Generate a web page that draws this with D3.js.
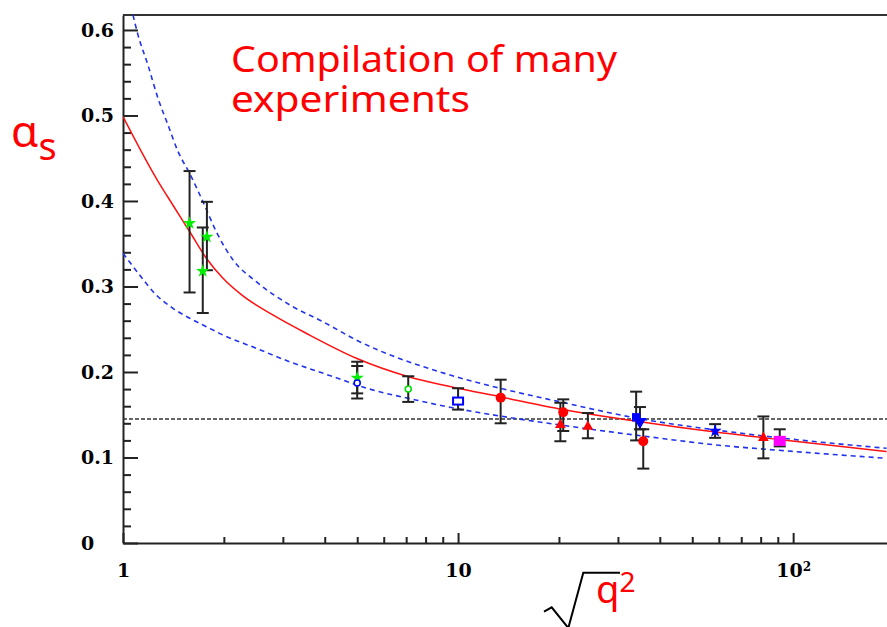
<!DOCTYPE html>
<html>
<head>
<meta charset="utf-8">
<script src="https://cdn.jsdelivr.net/npm/d3@7"></script>
<style>
body { margin: 0; background: #fff; }
</style>
</head>
<body>
<div id="chart"></div>
<script>
// measured points: sqrt(q^2), alpha_s and error bar ends
var qData      = [1.58, 1.73, 1.78, 5.0, 5.0, 7.1, 10.0, 13.4, 20.6, 20.2, 24.4, 34.0, 34.9, 35.7, 58.5, 81.5, 91.2];
var alphaData  = [0.374, 0.318, 0.358, 0.193, 0.187, 0.180, 0.166, 0.170, 0.153, 0.138, 0.136, 0.147, 0.142, 0.119, 0.131, 0.123, 0.1195];
var errLow     = [0.293, 0.269, 0.319, 0.175, 0.169, 0.165, 0.156, 0.140, 0.131, 0.119, 0.1225, 0.120, 0.133, 0.087, 0.123, 0.099, 0.113];
var errHigh    = [0.435, 0.369, 0.399, 0.212, 0.207, 0.195, 0.181, 0.191, 0.168, 0.164, 0.152, 0.177, 0.159, 0.133, 0.139, 0.148, 0.133];
var markerType = ['star', 'star', 'star', 'star', 'openCircle', 'openCircle', 'openSquare', 'circle', 'circle', 'triangle',
                  'triangle', 'square', 'triangleDown', 'circle', 'star', 'triangle', 'bigSquare'];
var markerColor = ['#00ee00', '#00ee00', '#00ee00', '#00ee00', '#0000ff', '#00dd00', '#0000ff', '#ff0000', '#ff0000', '#ff0000',
                   '#ff0000', '#0000ff', '#0000ff', '#ff0000', '#0000ff', '#ff0000', '#ff00ff'];

// QCD running: central curve and the two error band edges
var centralQ     = [1, 1.121, 1.257, 1.41, 1.582, 1.773, 1.988, 2.28, 2.80, 3.53, 4.97, 7.11, 9.46, 13.35, 20.6, 34.5, 57.8, 93.5, 190];
var centralAlpha = [0.4986, 0.4616, 0.4265, 0.395, 0.364, 0.333, 0.3096, 0.289, 0.2667, 0.245, 0.216, 0.1945, 0.183, 0.171, 0.156, 0.142, 0.130, 0.1205, 0.107];
var upperQ       = [1.071, 1.109, 1.187, 1.272, 1.362, 1.459, 1.582, 1.733, 1.899, 2.13, 2.50, 3.146, 3.95, 4.97, 9.46, 13.35, 20.2, 34.1, 59.2, 93.5, 190];
var upperAlpha   = [0.6175, 0.594, 0.559, 0.520, 0.489, 0.458, 0.432, 0.399, 0.364, 0.331, 0.3056, 0.2784, 0.2588, 0.2374, 0.1965, 0.181, 0.165, 0.146, 0.132, 0.1225, 0.1108];
var lowerQ       = [1, 1.121, 1.257, 1.41, 1.582, 1.773, 1.988, 2.50, 3.0, 4.24, 5.34, 7.53, 9.46, 13.35, 20.2, 37.4, 59.2, 93.5, 190];
var lowerAlpha   = [0.3388, 0.3135, 0.290, 0.2745, 0.2628, 0.253, 0.2433, 0.2277, 0.215, 0.1945, 0.181, 0.167, 0.1587, 0.1485, 0.138, 0.124, 0.1146, 0.108, 0.099];

var refAlpha = 0.145;

var yMajorTicks = [0, 0.1, 0.2, 0.3, 0.4, 0.5, 0.6];
var yMinorTicks = [0.02, 0.04, 0.06, 0.08, 0.12, 0.14, 0.16, 0.18, 0.22, 0.24, 0.26, 0.28, 0.32, 0.34, 0.36, 0.38,
                   0.42, 0.44, 0.46, 0.48, 0.52, 0.54, 0.56, 0.58];
var yTickLabels = ['0', '0.1', '0.2', '0.3', '0.4', '0.5', '0.6'];
var xMajorTicks = [1, 10, 100];
var xMinorTicks = [2, 3, 4, 5, 6, 7, 8, 9, 20, 30, 40, 50, 60, 70, 80, 90];
var xTickLabels = ['1', '10', '10'];

var width = 887, height = 627;
var plotLeft = 123, plotRight = 887, plotTop = 15, plotBottom = 543;

var svg = d3.select('#chart')
    .append('svg')
    .attr('width', width)
    .attr('height', height);

var x = d3.scaleLog().domain([1, 190.6]).range([plotLeft, plotRight]);
var y = d3.scaleLinear().domain([0, 0.6175]).range([plotBottom, plotTop]);

svg.append('clipPath').attr('id', 'plotclip')
    .append('rect')
    .attr('x', plotLeft).attr('y', plotTop)
    .attr('width', plotRight - plotLeft).attr('height', plotBottom - plotTop);

// frame top line
svg.append('line')
    .attr('x1', plotLeft).attr('x2', plotRight + 5)
    .attr('y1', plotTop).attr('y2', plotTop)
    .attr('stroke', '#333').attr('stroke-width', 2);

// y axis
var yAxis = svg.append('g')
    .attr('transform', 'translate(' + plotLeft + ',0)')
    .call(d3.axisLeft(y).tickValues(yMajorTicks).tickSizeInner(-15).tickSizeOuter(0)
        .tickFormat(function(d, i) { return yTickLabels[i]; }));
svg.append('g')
    .attr('transform', 'translate(' + plotLeft + ',0)')
    .call(d3.axisLeft(y).tickValues(yMinorTicks).tickSizeInner(-8).tickSizeOuter(0).tickFormat(''))
    .select('.domain').remove();

// x axis
var xAxis = svg.append('g')
    .attr('transform', 'translate(0,' + plotBottom + ')')
    .call(d3.axisBottom(x).tickValues(xMajorTicks).tickSizeInner(-10).tickSizeOuter(0).tickPadding(21)
        .tickFormat(function(d, i) { return xTickLabels[i]; }));
svg.append('g')
    .attr('transform', 'translate(0,' + plotBottom + ')')
    .call(d3.axisBottom(x).tickValues(xMinorTicks).tickSizeInner(-6).tickSizeOuter(0).tickFormat(''))
    .select('.domain').remove();

svg.selectAll('.domain').attr('stroke', '#222').attr('stroke-width', 2);
svg.selectAll('.tick line').attr('stroke', '#222').attr('stroke-width', 2);
svg.selectAll('.tick text')
    .attr('fill', '#000')
    .style('font-family', '"DejaVu Serif", serif')
    .style('font-weight', 'bold')
    .style('font-size', '19px');

yAxis.selectAll('.tick text')
    .attr('text-anchor', 'start')
    .attr('x', -42);

// 10^2 label
xAxis.selectAll('.tick text')
    .filter(function(d) { return d === 100; })
    .append('tspan')
    .attr('dy', '-0.5em')
    .style('font-size', '12px')
    .text('2');

// curves
var plot = svg.append('g').attr('clip-path', 'url(#plotclip)');

function curveLine(qs, as) {
    return d3.line()
        .x(function(d, i) { return x(qs[i]); })
        .y(function(d, i) { return y(as[i]); })
        .curve(d3.curveMonotoneX)(qs);
}

plot.append('line')
    .attr('x1', plotLeft).attr('x2', plotRight)
    .attr('y1', y(refAlpha)).attr('y2', y(refAlpha))
    .attr('stroke', '#333').attr('stroke-width', 1.5)
    .attr('stroke-dasharray', '4,2');

plot.append('path')
    .attr('d', curveLine(upperQ, upperAlpha))
    .attr('fill', 'none').attr('stroke', '#2233ee').attr('stroke-width', 1.6)
    .attr('stroke-dasharray', '5,4');
plot.append('path')
    .attr('d', curveLine(lowerQ, lowerAlpha))
    .attr('fill', 'none').attr('stroke', '#2233ee').attr('stroke-width', 1.6)
    .attr('stroke-dasharray', '5,4');
plot.append('path')
    .attr('d', curveLine(centralQ, centralAlpha))
    .attr('fill', 'none').attr('stroke', '#ff1111').attr('stroke-width', 1.5);

// error bars
var capW = 6;
var bars = plot.append('g').attr('stroke', '#222').attr('stroke-width', 2);
qData.forEach(function(q, i) {
    var cx = x(q);
    bars.append('line').attr('x1', cx).attr('x2', cx).attr('y1', y(errLow[i])).attr('y2', y(errHigh[i]));
    bars.append('line').attr('x1', cx - capW).attr('x2', cx + capW).attr('y1', y(errLow[i])).attr('y2', y(errLow[i]));
    bars.append('line').attr('x1', cx - capW).attr('x2', cx + capW).attr('y1', y(errHigh[i])).attr('y2', y(errHigh[i]));
});

// markers
qData.forEach(function(q, i) {
    var cx = x(q), cy = y(alphaData[i]), col = markerColor[i], t = markerType[i];
    if (t === 'star') {
        plot.append('path')
            .attr('d', d3.symbol().type(d3.symbolStar).size(55)())
            .attr('transform', 'translate(' + cx + ',' + cy + ')')
            .attr('fill', col);
    } else if (t === 'openCircle') {
        plot.append('circle').attr('cx', cx).attr('cy', cy).attr('r', 3)
            .attr('fill', '#fff').attr('stroke', col).attr('stroke-width', 1.5);
    } else if (t === 'openSquare') {
        plot.append('rect').attr('x', cx - 5).attr('y', cy - 3.5).attr('width', 10).attr('height', 7)
            .attr('fill', '#fff').attr('stroke', col).attr('stroke-width', 2);
    } else if (t === 'circle') {
        plot.append('circle').attr('cx', cx).attr('cy', cy).attr('r', 5).attr('fill', col);
    } else if (t === 'triangle') {
        plot.append('path')
            .attr('d', d3.symbol().type(d3.symbolTriangle).size(50)())
            .attr('transform', 'translate(' + cx + ',' + cy + ')')
            .attr('fill', col);
    } else if (t === 'triangleDown') {
        plot.append('path')
            .attr('d', d3.symbol().type(d3.symbolTriangle).size(70)())
            .attr('transform', 'translate(' + cx + ',' + cy + ') rotate(180)')
            .attr('fill', col);
    } else if (t === 'square') {
        plot.append('path')
            .attr('d', d3.symbol().type(d3.symbolSquare).size(70)())
            .attr('transform', 'translate(' + cx + ',' + cy + ')')
            .attr('fill', col);
    } else if (t === 'bigSquare') {
        plot.append('rect').attr('x', cx - 6).attr('y', cy - 5).attr('width', 12).attr('height', 10)
            .attr('fill', col);
    }
});

// title
var title = svg.append('g')
    .attr('fill', '#ff0000')
    .style('font-family', '"Comic Sans MS", "Noto Sans", sans-serif')
    .style('font-size', '36px');
title.append('text').attr('x', 231).attr('y', 72)
    .attr('textLength', 386).attr('lengthAdjust', 'spacingAndGlyphs')
    .text('Compilation of many');
title.append('text').attr('x', 231).attr('y', 112)
    .attr('textLength', 239).attr('lengthAdjust', 'spacingAndGlyphs')
    .text('experiments');

// y label: alpha_s
var ylab = svg.append('text')
    .attr('x', 11).attr('y', 147)
    .attr('fill', '#ff0000')
    .style('font-family', '"Noto Sans", sans-serif')
    .style('font-size', '44px');
ylab.append('tspan').text('\u03b1');
ylab.append('tspan').attr('dy', 13).style('font-size', '38px').text('s');

// x label: sqrt(q^2)
svg.append('path')
    .attr('d', 'M544,611.7 L551.7,607.3 L568.3,628 L583.3,572.7 L620,572.7')
    .attr('fill', 'none').attr('stroke', '#000').attr('stroke-width', 2);
var xlab = svg.append('text')
    .attr('x', 596).attr('y', 603)
    .attr('fill', '#ff0000')
    .style('font-family', '"Comic Sans MS", "Noto Sans", sans-serif')
    .style('font-size', '38px');
xlab.append('tspan').text('q');
xlab.append('tspan').attr('dy', -11).style('font-size', '28px').text('2');
</script>
</body>
</html>
